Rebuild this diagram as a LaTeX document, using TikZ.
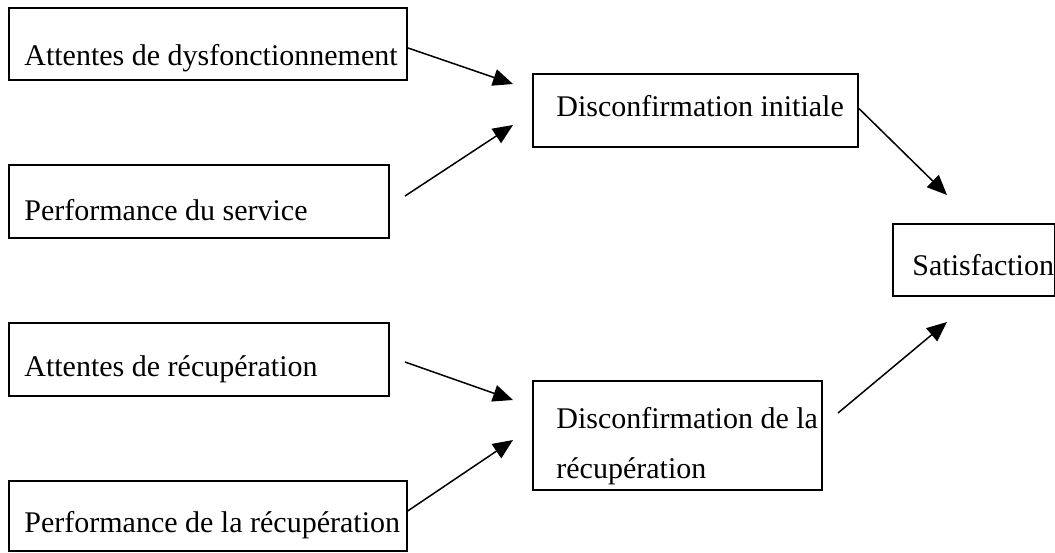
\documentclass[tikz,border=0pt]{standalone}
\usepackage{fontspec}
\setmainfont{Liberation Serif}
\usetikzlibrary{arrows.meta, calc}
\tikzset{
  box/.style={rectangle, draw=black, line width=0.9pt, anchor=north west, inner sep=0pt},
  lbl/.style={anchor=base west, inner sep=0pt, align=left,
    font=\fontsize{15pt}{25pt}\selectfont},
  arrow/.style={-{Triangle[length=10pt, width=8.5pt]}, line width=0.75pt, color=black}
}

\begin{document}
\begin{tikzpicture}[x=0.5pt, y=-0.5pt]
  \useasboundingbox (0,0) rectangle (1055,552);

  % Antecedents
  \node[box, minimum width=199pt, minimum height=36pt] (dysf) at (8,7) {};
  \node[lbl] (dysf-t) at ($(dysf.north west)+(16,58)$) {Attentes de dysfonctionnement};
  \node[box, minimum width=190pt, minimum height=36.5pt] (perf) at (8,164) {};
  \node[lbl] (perf-t) at ($(perf.north west)+(16,56)$) {Performance du service};
  \node[box, minimum width=190pt, minimum height=36.5pt] (attrec) at (8,322) {};
  \node[lbl] (attrec-t) at ($(attrec.north west)+(16,54)$) {Attentes de récupération};
  \node[box, minimum width=199pt, minimum height=35pt] (perfrec) at (8,480) {};
  \node[lbl] (perfrec-t) at ($(perfrec.north west)+(16,52)$) {Performance de la récupération};

  % Disconfirmations
  \node[box, minimum width=162.5pt, minimum height=36.5pt] (disc) at (532,73) {};
  \node[lbl] (disc-t) at ($(disc.north west)+(24,43)$) {Disconfirmation initiale};
  \node[box, minimum width=144.5pt, minimum height=54.5pt] (discrec) at (532,380) {};
  \node[lbl] (discrec-t) at ($(discrec.north west)+(24,98)$) {Disconfirmation de la\\récupération};

  % Outcome
  \node[box, minimum width=81pt, minimum height=36pt] (sat) at (892,223) {};
  \node[lbl] (sat-t) at ($(sat.north west)+(20,52)$) {Satisfaction};

  % Free ends
  \coordinate (perf-o) at (405,196);
  \coordinate (attrec-o) at (405,362);
  \coordinate (discrec-o) at (838,413);
  \coordinate (disc-i1) at (513,84);
  \coordinate (disc-i2) at (513,125);
  \coordinate (discrec-i1) at (513,400);
  \coordinate (discrec-i2) at (513,440);
  \coordinate (sat-i1) at (947,195);
  \coordinate (sat-i2) at (947,322);

  % Paths
  \draw[arrow] ([yshift=-2pt]dysf.east) -- (disc-i1);
  \draw[arrow] (perf-o) -- (disc-i2);
  \draw[arrow] (attrec-o) -- (discrec-i1);
  \draw[arrow] ([yshift=2.5pt]perfrec.east) -- (discrec-i2);
  \draw[arrow] ([yshift=1pt]disc.east) -- (sat-i1);
  \draw[arrow] (discrec-o) -- (sat-i2);
\end{tikzpicture}
\end{document}
